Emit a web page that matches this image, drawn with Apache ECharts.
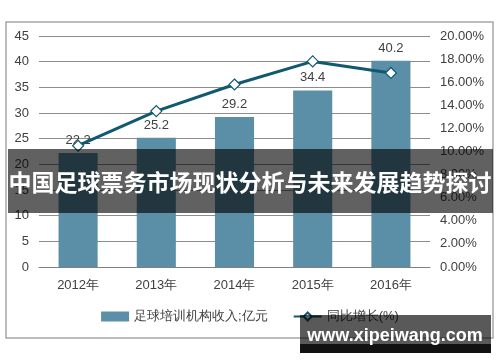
<!DOCTYPE html>
<html><head><meta charset="utf-8">
<script src="https://cdn.jsdelivr.net/npm/echarts@6/dist/echarts.min.js"></script>
<style>html,body{margin:0;padding:0;background:#fff}#c{width:500px;height:362px}</style>
</head><body><div id="c"></div>
<script>
const categories = ['2012年','2013年','2014年','2015年','2016年'];
const revenue = [22.2, 25.2, 29.2, 34.4, 40.2];
const growth = [10.5, 13.5, 15.8, 17.8, 16.8];
const leftTicks = [0, 45, 5];
const rightTicks = [0, 20, 2];
const barName = '足球培训机构收入;亿元';
const lineName = '同比增长(%)';
const titleText = '中国足球票务市场现状分析与未来发展趋势探讨';
const watermark = 'www.xipeiwang.com';

const chart = echarts.init(document.getElementById('c'));
const font = 'Liberation Sans, Arial, sans-serif';
chart.setOption({
  animation: false,
  textStyle: {fontFamily: font},
  grid: {left: 39, right: 70, top: 36, bottom: 95},
  legend: {
    bottom: 34, left: 'center', itemWidth: 28, itemHeight: 10, itemGap: 25,
    textStyle: {fontSize: 13, color: '#404040', fontFamily: font},
    data: [{name: barName, icon: 'rect'}, {name: lineName}]
  },
  xAxis: {
    type: 'category', data: categories,
    axisLine: {lineStyle: {color: '#808080', width: 1}},
    axisTick: {show: false},
    axisLabel: {fontSize: 13, color: '#404040', margin: 12}
  },
  yAxis: [{
    type: 'value', min: leftTicks[0], max: leftTicks[1], interval: leftTicks[2],
    axisLine: {show: false}, axisTick: {show: false},
    axisLabel: {fontSize: 13, color: '#404040', margin: 10},
    splitLine: {lineStyle: {color: '#8c8c8c', width: 1}}
  }, {
    type: 'value', min: rightTicks[0], max: rightTicks[1], interval: rightTicks[2],
    axisLine: {show: false}, axisTick: {show: false},
    axisLabel: {fontSize: 13, color: '#404040', margin: 10, formatter: v => v.toFixed(2) + '%'},
    splitLine: {show: false}
  }],
  series: [{
    name: barName, type: 'bar', data: revenue, barWidth: '50%',
    itemStyle: {color: '#5b8fa7'},
    label: {show: true, position: 'top', distance: 6, fontSize: 13, color: '#404040'}
  }, {
    name: lineName, type: 'line', yAxisIndex: 1, data: growth,
    symbol: 'diamond', symbolSize: 11,
    lineStyle: {color: '#0f5a70', width: 3},
    itemStyle: {color: '#ffffff', borderColor: '#0f5a70', borderWidth: 1.2}
  }],
  graphic: [
    {type: 'rect', shape: {x: 6, y: 22, width: 487, height: 316}, style: {fill: 'none', stroke: '#a6a6a6', lineWidth: 1.5}, z: 0, silent: true},
    {type: 'rect', shape: {x: 8, y: 149, width: 485, height: 64}, style: {fill: 'rgba(0,0,0,0.62)'}, z: 100},
    {type: 'text', x: 250, y: 182, style: {text: titleText, fill: '#fff', font: 'bold 23px "Noto Sans CJK SC", sans-serif', align: 'center', verticalAlign: 'middle'}, z: 101},
    {type: 'rect', shape: {x: 300, y: 315, width: 191, height: 29}, style: {fill: 'rgba(0,0,0,0.65)'}, z: 100},
    {type: 'rect', shape: {x: 300, y: 344, width: 191, height: 9}, style: {fill: '#111'}, z: 100},
    {type: 'text', x: 395, y: 336, style: {text: watermark, fill: '#fff', font: 'bold 18px "Liberation Sans", Arial, sans-serif', align: 'center', verticalAlign: 'middle'}, z: 101}
  ]
});
</script></body></html>
